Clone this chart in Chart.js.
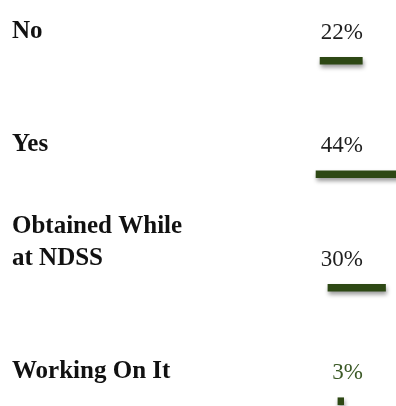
<!DOCTYPE html>
<html>
<head>
<meta charset="utf-8">
<script src="https://cdn.jsdelivr.net/npm/chart.js@4"></script>
<style>
  html, body { margin: 0; padding: 0; background: #fff; overflow: hidden; }
  #chart { display: block; }
</style>
</head>
<body>
<canvas id="chart" width="420" height="458"></canvas>
<script>
// chart data
const categories = ['No', 'Yes', ['Obtained While', 'at NDSS'], 'Working On It'];
const percentValues = [22, 44, 30, 3];
const percentLabels = ['22%', '44%', '30%', '3%'];

// the bars on the slide do not share a common start, so each one is offset (in % units)
const barStart = [166.7, 164.6, 170.8, 176];
const pctColors = ['#1e1e1e', '#1e1e1e', '#1e1e1e', '#3c5a27'];
const barColor = '#2d4814';

const shadowPlugin = {
  id: 'barShadow',
  beforeDatasetsDraw: (chart) => {
    const ctx = chart.ctx;
    ctx.save();
    ctx.shadowColor = 'rgba(0,0,0,0.4)';
    ctx.shadowBlur = 4;
    ctx.shadowOffsetX = 1;
    ctx.shadowOffsetY = 3;
  },
  afterDatasetsDraw: (chart) => {
    chart.ctx.restore();
  },
};

const labelPlugin = {
  id: 'sideLabels',
  afterDraw: (chart) => {
    const ctx = chart.ctx;
    const yScale = chart.scales.y;
    ctx.save();
    ctx.textBaseline = 'alphabetic';
    categories.forEach((cat, i) => {
      const y = yScale.getPixelForValue(i);
      const lines = Array.isArray(cat) ? cat : [cat];
      ctx.font = 'bold 25px "Liberation Serif", "Times New Roman", serif';
      ctx.fillStyle = '#111';
      ctx.textAlign = 'left';
      lines.forEach((line, j) => {
        ctx.fillText(line, 12, y - 23 - (lines.length - 1 - j) * 32);
      });
      ctx.font = '23px "Liberation Serif", "Times New Roman", serif';
      ctx.fillStyle = pctColors[i];
      ctx.textAlign = 'right';
      ctx.fillText(percentLabels[i], 363, y - 22);
    });
    ctx.restore();
  },
};

new Chart(document.getElementById('chart'), {
  type: 'bar',
  data: {
    labels: categories,
    datasets: [
      {
        data: percentValues.map((v, i) => [barStart[i], barStart[i] + v]),
        backgroundColor: barColor,
        borderWidth: 0,
        barThickness: 7,
      },
    ],
  },
  options: {
    indexAxis: 'y',
    responsive: false,
    animation: false,
    layout: { padding: { top: 4, bottom: 0, left: 0, right: 0 } },
    plugins: {
      legend: { display: false },
      tooltip: { enabled: false },
    },
    scales: {
      x: { type: 'linear', min: 0, max: 218.75, display: false },
      y: { display: false },
    },
  },
  plugins: [shadowPlugin, labelPlugin],
});
</script>
</body>
</html>
